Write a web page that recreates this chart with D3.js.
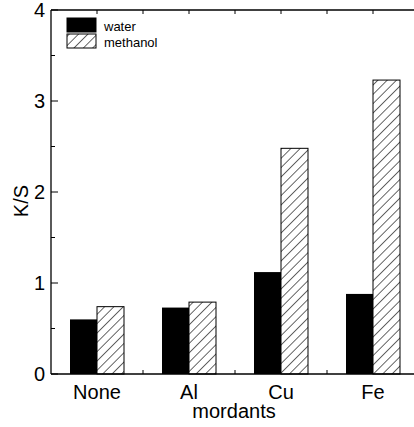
<!DOCTYPE html>
<html>
<head>
<meta charset="utf-8">
<script src="https://cdn.jsdelivr.net/npm/d3@7"></script>
<style>
  body { margin: 0; background: #fff; }
  svg { display: block; font-family: "Liberation Sans", Arial, sans-serif; overflow: hidden; }
</style>
</head>
<body>
<script>
const categories = ["None", "Al", "Cu", "Fe"];
const series = ["water", "methanol"];
const water = [0.60, 0.73, 1.12, 0.88];
const methanol = [0.74, 0.79, 2.48, 3.23];
const yTicks = [0, 1, 2, 3, 4];

const width = 414, height = 427;
const plotLeft = 51, plotRight = 419, plotTop = 10, plotBottom = 374;

const svg = d3.select("body").append("svg")
    .attr("width", width)
    .attr("height", height);

const defs = svg.append("defs");
const pat = defs.append("pattern")
    .attr("id", "hatch")
    .attr("patternUnits", "userSpaceOnUse")
    .attr("width", 6.6)
    .attr("height", 6.6)
    .attr("patternTransform", "rotate(45)");
pat.append("rect").attr("width", 6.6).attr("height", 6.6).attr("fill", "#fff");
pat.append("line")
    .attr("x1", 0).attr("y1", 0).attr("x2", 0).attr("y2", 6.6)
    .attr("stroke", "#000").attr("stroke-width", 1.2);

const x = d3.scaleBand().domain(categories).range([plotLeft, plotRight]);
const y = d3.scaleLinear().domain([0, 4]).range([plotBottom, plotTop]);
const barW = 27;

const data = categories.map((c, i) => ({ c, water: water[i], methanol: methanol[i] }));

const g = svg.append("g");

// water bars
g.selectAll(".w")
  .data(data)
  .enter().append("rect")
    .attr("class", "w")
    .attr("x", d => x(d.c) + x.bandwidth() / 2 - barW)
    .attr("y", d => y(d.water))
    .attr("width", barW)
    .attr("height", d => y(0) - y(d.water))
    .attr("fill", "#000");

// methanol bars
g.selectAll(".m")
  .data(data)
  .enter().append("rect")
    .attr("class", "m")
    .attr("x", d => x(d.c) + x.bandwidth() / 2)
    .attr("y", d => y(d.methanol))
    .attr("width", barW)
    .attr("height", d => y(0) - y(d.methanol))
    .attr("fill", "url(#hatch)")
    .attr("stroke", "#000")
    .attr("stroke-width", 1);

// frame
const frame = svg.append("g").attr("stroke", "#000").attr("fill", "none").attr("stroke-width", 1.3);
frame.append("line").attr("x1", plotLeft).attr("x2", plotLeft).attr("y1", plotTop).attr("y2", plotBottom);
frame.append("line").attr("x1", plotLeft).attr("x2", width + 10).attr("y1", plotBottom).attr("y2", plotBottom);
frame.append("line").attr("x1", plotLeft).attr("x2", width + 10).attr("y1", plotTop).attr("y2", plotTop);

// y ticks (inward)
const ticks = svg.append("g").attr("stroke", "#000").attr("stroke-width", 1);
yTicks.forEach(v => {
  ticks.append("line").attr("x1", plotLeft).attr("x2", plotLeft + 7).attr("y1", y(v)).attr("y2", y(v));
});
d3.range(0.5, 4, 1).forEach(v => {
  ticks.append("line").attr("x1", plotLeft).attr("x2", plotLeft + 4).attr("y1", y(v)).attr("y2", y(v));
});
// x ticks at band boundaries
categories.slice(1).forEach(c => {
  ticks.append("line").attr("x1", x(c)).attr("x2", x(c)).attr("y1", plotBottom).attr("y2", plotBottom - 4);
  ticks.append("line").attr("x1", x(c)).attr("x2", x(c)).attr("y1", plotTop).attr("y2", plotTop + 4);
});
categories.forEach(c => {
  const cx = x(c) + x.bandwidth() / 2;
  ticks.append("line").attr("x1", cx).attr("x2", cx).attr("y1", plotTop).attr("y2", plotTop + 4);
});

// tick labels
svg.append("g").selectAll("text")
  .data(yTicks)
  .enter().append("text")
    .attr("x", plotLeft - 6)
    .attr("y", d => y(d) + 7)
    .attr("text-anchor", "end")
    .attr("font-size", 20)
    .text(d => d);

svg.append("g").selectAll("text")
  .data(categories)
  .enter().append("text")
    .attr("x", d => x(d) + x.bandwidth() / 2)
    .attr("y", 399)
    .attr("text-anchor", "middle")
    .attr("font-size", 20)
    .text(d => d);

svg.append("text")
  .attr("x", 234)
  .attr("y", 418)
  .attr("text-anchor", "middle")
  .attr("font-size", 20)
  .text("mordants");

svg.append("text")
  .attr("transform", "translate(28,201) rotate(-90)")
  .attr("text-anchor", "middle")
  .attr("font-size", 20)
  .text("K/S");

// legend
const leg = svg.append("g");
series.forEach((s, i) => {
  leg.append("rect")
    .attr("x", 67).attr("y", 18 + i * 16)
    .attr("width", 29).attr("height", 14)
    .attr("fill", i === 0 ? "#000" : "url(#hatch)")
    .attr("stroke", "#000").attr("stroke-width", 1);
  leg.append("text")
    .attr("x", 104).attr("y", 31 + i * 16)
    .attr("font-size", 13)
    .text(s);
});
</script>
</body>
</html>
